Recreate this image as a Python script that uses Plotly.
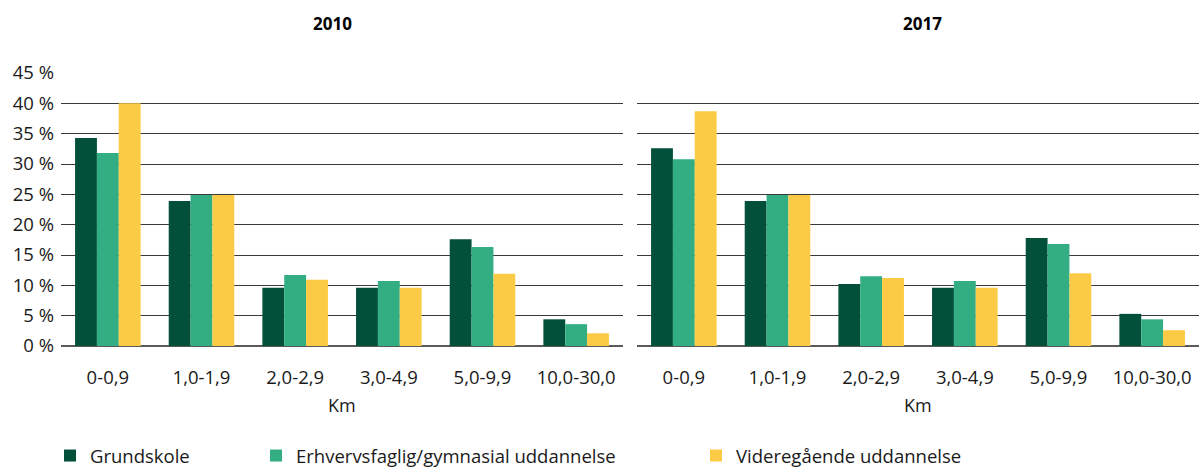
import plotly.graph_objects as go
from plotly.subplots import make_subplots

categories = ["0-0,9", "1,0-1,9", "2,0-2,9", "3,0-4,9", "5,0-9,9", "10,0-30,0"]
years = ["2010", "2017"]
series_names = ["Grundskole", "Erhvervsfaglig/gymnasial uddannelse", "Videregående uddannelse"]

grundskole_2010 = [34.3, 23.9, 9.6, 9.6, 17.6, 4.4]
erhverv_2010 = [31.8, 24.9, 11.7, 10.7, 16.3, 3.6]
videre_2010 = [40.0, 24.9, 10.9, 9.6, 11.9, 2.1]

grundskole_2017 = [32.6, 23.9, 10.2, 9.6, 17.8, 5.3]
erhverv_2017 = [30.8, 24.9, 11.5, 10.7, 16.8, 4.4]
videre_2017 = [38.7, 24.9, 11.2, 9.6, 12.0, 2.6]

y_ticks = [0, 5, 10, 15, 20, 25, 30, 35, 40, 45]
y_tick_labels = [f"{v} %" for v in y_ticks]

colors = ["#024f3a", "#32ae82", "#fccb45"]
FONT = "Open Sans"
TEXT = "#1a1a1a"

data = {
    "2010": [grundskole_2010, erhverv_2010, videre_2010],
    "2017": [grundskole_2017, erhverv_2017, videre_2017],
}

fig = make_subplots(rows=1, cols=2)

legend_ids = ["legend", "legend2", "legend3"]
for col, year in enumerate(years, start=1):
    for i, name in enumerate(series_names):
        fig.add_trace(
            go.Bar(
                x=categories,
                y=data[year][i],
                name=name,
                marker=dict(color=colors[i], line=dict(width=0)),
                showlegend=(col == 1),
                legend=legend_ids[i],
                hovertemplate="%{x}: %{y} %<extra>" + name + "</extra>",
            ),
            row=1, col=col,
        )

W, H = 1199, 471
ml, mr, mt, mb = 61, 0, 73, 125
pw = W - ml - mr
ph = H - mt - mb

def px_x(px):
    return (px - ml) / pw

def px_y(py):
    return (H - mb - py) / ph

left_dom = [0, px_x(623)]
right_dom = [px_x(637), 1]

fig.update_xaxes(
    showgrid=False,
    showline=False,
    ticks="",
    automargin=False,
    ticklabelstandoff=18,
    tickfont=dict(family=FONT, size=18.5, color=TEXT),
)
fig.update_layout(
    xaxis=dict(domain=left_dom),
    xaxis2=dict(domain=right_dom),
)

fig.update_yaxes(
    range=[0, 45],
    tickvals=y_ticks,
    ticktext=y_tick_labels,
    showgrid=True,
    gridcolor="#3a3a3a",
    gridwidth=1.2,
    zeroline=True,
    zerolinecolor="#5a5a5a",
    zerolinewidth=1.5,
    showline=False,
    ticks="",
    automargin=False,
    ticklabelstandoff=6,
    tickfont=dict(family=FONT, size=18.5, color=TEXT),
    fixedrange=True,
)
fig.update_yaxes(showticklabels=False, row=1, col=2)

# "Km" axis titles
for dom in [left_dom, right_dom]:
    fig.add_annotation(
        text="Km",
        x=(dom[0] + dom[1]) / 2, xref="paper",
        y=px_y(405), yref="paper",
        showarrow=False,
        font=dict(family=FONT, size=18, color=TEXT),
        xanchor="center", yanchor="middle",
    )

# Panel titles
for year, xp in zip(years, [332, 922]):
    fig.add_annotation(
        text=f"<b>{year}</b>",
        x=px_x(xp), xref="paper",
        y=px_y(24), yref="paper",
        showarrow=False,
        font=dict(family=FONT, size=17, color="#000000"),
        xanchor="center", yanchor="middle",
    )

legend_x_px = [50, 256, 696]
legend_cfg = {}
for lid, xp in zip(legend_ids, legend_x_px):
    legend_cfg[lid] = dict(
        x=px_x(xp), xanchor="left",
        y=px_y(475), yanchor="bottom",
        orientation="h",
        font=dict(family=FONT, size=18.5, color=TEXT),
        bgcolor="rgba(0,0,0,0)",
        borderwidth=0,
        itemsizing="constant",
    )

fig.update_layout(
    width=W, height=H,
    margin=dict(l=ml, r=mr, t=mt, b=mb, autoexpand=False),
    barmode="group",
    bargap=0.3,
    bargroupgap=0,
    plot_bgcolor="white",
    paper_bgcolor="white",
    font=dict(family=FONT, color=TEXT),
    **legend_cfg,
)

fig.write_html("out.html")
